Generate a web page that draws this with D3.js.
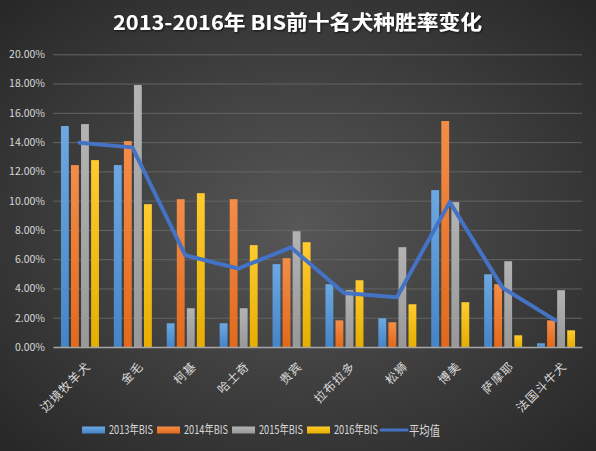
<!DOCTYPE html>
<html><head><meta charset="utf-8">
<script src="https://cdn.jsdelivr.net/npm/d3@7"></script>
<style>
html,body{margin:0;padding:0;background:#333;}
svg{display:block;}
</style></head>
<body>
<svg id="chart" width="596" height="451"></svg>
<script>
const categories = ["边境牧羊犬","金毛","柯基","哈士奇","贵宾","拉布拉多","松狮","博美","萨摩耶","法国斗牛犬"];
const seriesNames = ["2013年BIS","2014年BIS","2015年BIS","2016年BIS"];
const s2013 = [15.1, 12.43, 1.62, 1.62, 5.66, 4.29, 1.96, 10.72, 4.97, 0.25];
const s2014 = [12.43, 14.07, 10.1, 10.1, 6.07, 1.82, 1.69, 15.44, 4.29, 1.82];
const s2015 = [15.23, 17.9, 2.65, 2.65, 7.91, 3.88, 6.82, 9.9, 5.86, 3.88];
const s2016 = [12.77, 9.76, 10.51, 6.96, 7.16, 4.56, 2.92, 3.06, 0.8, 1.14];
const average = [13.96, 13.64, 6.27, 5.36, 6.8, 3.69, 3.4, 9.9, 4.04, 1.82];
const lineName = "平均值";
const yTicks = [0,2,4,6,8,10,12,14,16,18,20];
const titleText = "2013-2016年 BIS前十名犬种胜率变化";

const W = 596, H = 451;
const svg = d3.select("#chart");
const defs = svg.append("defs");
const bg = defs.append("radialGradient").attr("id","bg").attr("cx","50%").attr("cy","50%").attr("r","72%");
bg.append("stop").attr("offset","0%").attr("stop-color","#575757");
bg.append("stop").attr("offset","100%").attr("stop-color","#262626");
svg.append("rect").attr("width",W).attr("height",H).attr("fill","url(#bg)");

const colors = [["#6ca8e2","#4584c7"],["#f48d48","#e2691b"],["#b3b3b3","#989898"],["#ffcb2e","#e6ae00"]];
colors.forEach((c,i)=>{
  const g = defs.append("linearGradient").attr("id","g"+i).attr("x1",0).attr("y1",0).attr("x2",0).attr("y2",1);
  g.append("stop").attr("offset","0%").attr("stop-color",c[0]);
  g.append("stop").attr("offset","100%").attr("stop-color",c[1]);
});

const font = "'Noto Sans CJK SC','Noto Sans',sans-serif";
const m = {left:53, right:582, top:54.3, bottom:347};
const x = d3.scaleBand().domain(categories).range([m.left,m.right]);
const y = d3.scaleLinear().domain([0,20]).range([m.bottom,m.top]);
const xs = d3.scaleBand().domain(seriesNames).range([-18.5,19.5]).paddingInner(0.22);

// gridlines
svg.append("g").selectAll("line").data(yTicks.filter(d=>d>0)).join("line")
  .attr("x1",m.left).attr("x2",m.right)
  .attr("y1",d=>y(d)+0.5).attr("y2",d=>y(d)+0.5)
  .attr("stroke","#646464").attr("stroke-width",1);

// y axis
const yAxis = d3.axisLeft(y).tickValues(yTicks).tickFormat(d=>d3.format(".2f")(d)+"%").tickSize(0).tickPadding(8);
const ya = svg.append("g").attr("transform",`translate(${m.left},0)`).call(yAxis);
ya.select(".domain").remove();
ya.selectAll("text").attr("fill","#d9d9d9").style("font-family",font).style("font-size","10.5px");

// bars
const all = [s2013,s2014,s2015,s2016];
all.forEach((vals,si)=>{
  svg.append("g").selectAll("rect").data(vals).join("rect")
    .attr("x",(d,i)=>x(categories[i])+x.bandwidth()/2+xs(seriesNames[si]))
    .attr("width",xs.bandwidth())
    .attr("y",d=>y(d)).attr("height",d=>y(0)-y(d))
    .attr("fill",`url(#g${si})`);
});

// x axis
const xAxis = d3.axisBottom(x).tickSize(0).tickPadding(0);
const xa = svg.append("g").attr("transform",`translate(0,${m.bottom})`).call(xAxis);
xa.select(".domain").attr("stroke","#a6a6a6").attr("stroke-width",1.5);
xa.selectAll("text").attr("fill","#d9d9d9").style("font-family",font).style("font-size","12px")
  .style("letter-spacing","1px")
  .attr("text-anchor","end").attr("dy","0.35em")
  .attr("transform","translate(9,17) rotate(-45)");

// line
const line = d3.line().x((d,i)=>x(categories[i])+x.bandwidth()/2).y(d=>y(d));
svg.append("path").datum(average).attr("d",line).attr("fill","none")
  .attr("stroke","#4472c4").attr("stroke-width",4).attr("stroke-linejoin","round").attr("stroke-linecap","round");

// title
const shadow = defs.append("filter").attr("id","sh").attr("x","-10%").attr("y","-30%").attr("width","120%").attr("height","160%");
shadow.append("feDropShadow").attr("dx",1).attr("dy",1).attr("stdDeviation",1).attr("flood-color","#000").attr("flood-opacity",0.7);
svg.append("text").attr("x",113).attr("y",30)
  .attr("fill","#ffffff").attr("font-weight","bold").style("font-family",font).style("font-size","20px")
  .attr("textLength",369).attr("lengthAdjust","spacingAndGlyphs")
  .attr("filter","url(#sh)").text(titleText);

// legend
const legendItems = seriesNames.map((n,i)=>({name:n,type:"bar",i})).concat([{name:lineName,type:"line"}]);
const lx = [82,157,232,307,381];
const lg = svg.append("g");
legendItems.forEach((it,k)=>{
  const g = lg.append("g").attr("transform",`translate(${lx[k]},430)`);
  if(it.type==="bar"){
    g.append("rect").attr("x",0).attr("y",-3.5).attr("width",23).attr("height",7).attr("fill",`url(#g${it.i})`);
  } else {
    g.append("line").attr("x1",0).attr("x2",26).attr("y1",0).attr("y2",0).attr("stroke","#4472c4").attr("stroke-width",3).attr("stroke-linecap","round");
  }
  g.append("text").attr("x",it.type==="bar"?27:28).attr("y",0).attr("dy","0.35em")
    .attr("fill","#d9d9d9").style("font-family",font).style("font-size",it.type==="bar"?"12px":"13px")
    .attr("textLength",it.type==="bar"?44:31).attr("lengthAdjust","spacingAndGlyphs")
    .text(it.name);
});
</script>
</body></html>
